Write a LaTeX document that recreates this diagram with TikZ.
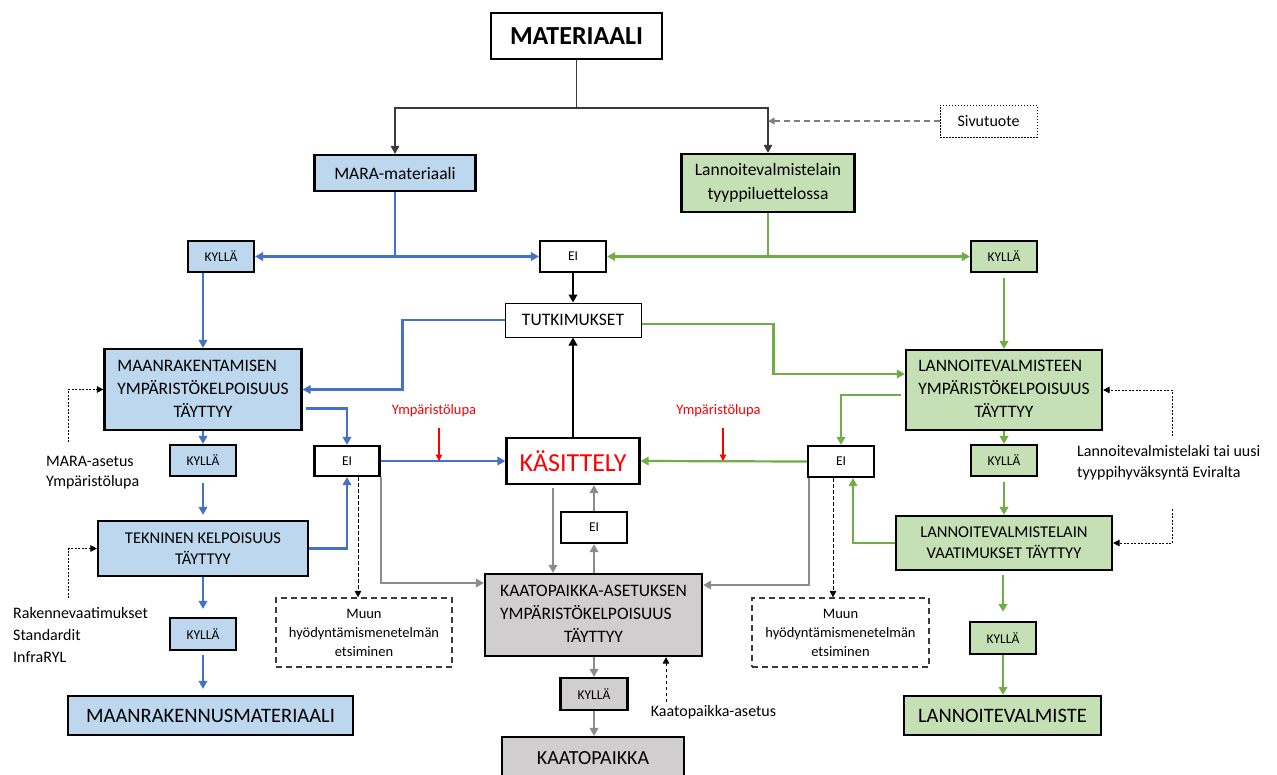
\documentclass[tikz,border=0pt]{standalone}
\usepackage{fontspec}
\setmainfont{Carlito}
\usetikzlibrary{arrows.meta}

\definecolor{lineblue}{HTML}{4472C4}
\definecolor{linegreen}{HTML}{70AD47}
\definecolor{linegray}{HTML}{8C8C8C}
\definecolor{fillblue}{HTML}{BDD7EE}
\definecolor{fillgreen}{HTML}{C5E0B4}
\definecolor{fillgray}{HTML}{D0CECE}
\definecolor{darkline}{HTML}{3A3A3A}
\definecolor{dashgray}{HTML}{7F7F7F}

\newcommand{\fsz}[2]{\fontsize{#1}{#2}\selectfont}
% two left-aligned lines with a centred last line
\newcommand{\threel}[3]{\begin{tabular}{@{}l@{}}#1\\#2\\\multicolumn{1}{@{}c@{}}{#3}\end{tabular}}

\tikzset{
  box/.style={draw=black, line width=2.2pt, inner sep=0pt, align=center, text=black},
  bluebox/.style={box, fill=fillblue},
  greenbox/.style={box, fill=fillgreen},
  graybox/.style={box, fill=fillgray},
  whitebox/.style={box, fill=white},
  yn/.style={font=\fsz{13.5}{16}, minimum width=66pt, minimum height=31pt},
  big/.style={font=\fsz{17.5}{23}},
  note/.style={inner sep=0pt, align=left, text=black, font=\fsz{16}{20}},
  muunbox/.style={draw=darkline, line width=1.2pt, dash pattern=on 6pt off 4pt,
    inner sep=0pt, align=center, font=\fsz{14.5}{19}, minimum width=176pt, minimum height=69pt},
  tip/.tip={Triangle[length=8pt,width=8.5pt]},
  smalltip/.tip={Triangle[length=6.5pt,width=6.5pt]},
  conn/.style={line width=2.2pt, -tip},
  bl/.style={conn, draw=lineblue},
  gr/.style={conn, draw=linegreen},
  gy/.style={conn, draw=linegray},
  bk/.style={conn, draw=black},
  thinblk/.style={line width=1.4pt, draw=darkline},
  dotarrow/.style={line width=1pt, draw=black, dash pattern=on 2pt off 1.5pt, -smalltip},
  dsharrow/.style={line width=0.9pt, draw=black, dash pattern=on 3.5pt off 2.5pt, -smalltip},
  sivuarrow/.style={line width=1.6pt, draw=dashgray, dash pattern=on 6pt off 4pt, -smalltip},
  redarrow/.style={line width=1.3pt, draw=red, -smalltip},
}

\begin{document}
\begin{tikzpicture}[x=1pt, y=-1pt]
\useasboundingbox (0,0) rectangle (1277,774);
\clip (0,0) rectangle (1277,774);

% ---- boxes ----
\node[whitebox, minimum width=171pt, minimum height=46pt, font=\fsz{26}{30}\bfseries] (mat) at (576.5,36) {MATERIAALI};
\node[bluebox, minimum width=161pt, minimum height=36pt, font=\fsz{17.5}{23}] (mara) at (395,173) {MARA-materiaali};
\node[greenbox, minimum width=173pt, minimum height=58pt, font=\fsz{17.5}{24}] (lvt) at (768,183) {Lannoitevalmistelain\\tyyppiluettelossa};
\node[box, line width=1pt, dash pattern=on 1.5pt off 1.5pt, minimum width=97pt, minimum height=32pt, font=\fsz{16}{20}] (sivu) at (988.5,121) {Sivutuote};

\node[bluebox, yn] (ky1) at (221,256.5) {KYLLÄ};
\node[whitebox, yn] (ei1) at (573,256.5) {EI};
\node[greenbox, yn] (ky2) at (1004,256.5) {KYLLÄ};

\node[box, line width=1pt, fill=white, minimum width=136pt, minimum height=34pt, font=\fsz{17.5}{22}] (tutk) at (573,320) {TUTKIMUKSET};

\node[bluebox, big, minimum width=197pt, minimum height=81pt] (maan) at (203,389.5) {\threel{MAANRAKENTAMISEN}{YMPÄRISTÖKELPOISUUS}{TÄYTTYY}};
\node[greenbox, big, minimum width=196pt, minimum height=80pt] (lve) at (1004,390) {\threel{LANNOITEVALMISTEEN}{YMPÄRISTÖKELPOISUUS}{TÄYTTYY}};

\node[whitebox, minimum width=133pt, minimum height=46pt, text=red, font=\fsz{26}{30}] (kas) at (573,461) {KÄSITTELY};

\node[bluebox, yn] (ky3) at (203,460.5) {KYLLÄ};
\node[whitebox, yn, minimum width=65pt, minimum height=30pt] (eiL) at (347,461) {EI};
\node[whitebox, yn] (eiR) at (841,461.5) {EI};
\node[greenbox, yn] (ky5) at (1004,460.5) {KYLLÄ};

\node[bluebox, minimum width=210pt, minimum height=55pt, font=\fsz{16.5}{21}] (tek) at (203,548.5) {TEKNINEN KELPOISUUS\\TÄYTTYY};
\node[greenbox, minimum width=216pt, minimum height=54pt, font=\fsz{16.5}{21}] (vaat) at (1004,543) {LANNOITEVALMISTELAIN\\VAATIMUKSET TÄYTTYY};

\node[whitebox, yn] (eim) at (594,527.5) {EI};
\node[graybox, big, minimum width=217pt, minimum height=82pt] (kaato) at (593.5,615) {\threel{KAATOPAIKKA-ASETUKSEN}{YMPÄRISTÖKELPOISUUS}{TÄYTTYY}};

\node[muunbox] (muunL) at (364,632.5) {Muun\\hyödyntämismenetelmän\\etsiminen};
\node[muunbox, minimum width=177pt] (muunR) at (840.5,632.5) {Muun\\hyödyntämismenetelmän\\etsiminen};

\node[bluebox, yn, minimum height=32pt] (ky4) at (203,634) {KYLLÄ};
\node[greenbox, yn, minimum height=32pt] (ky6) at (1003,638) {KYLLÄ};
\node[graybox, yn, minimum width=67pt, minimum height=32pt] (kyg) at (594,694) {KYLLÄ};

\node[bluebox, minimum width=285pt, minimum height=39pt, font=\fsz{20.5}{24}] (mrm) at (210.5,715.5) {MAANRAKENNUSMATERIAALI};
\node[greenbox, minimum width=197pt, minimum height=39pt, font=\fsz{20.5}{24}] (lvf) at (1002.5,715.5) {LANNOITEVALMISTE};
\node[graybox, minimum width=182pt, minimum height=42pt, font=\fsz{20}{24}] (kaatop) at (593,758) {KAATOPAIKKA};

% ---- annotations ----
\node[note, anchor=west] (maraAs) at (46,473) {MARA-asetus\\Ympäristölupa};
\node[note, anchor=west, font=\fsz{16}{22}] (rak) at (13,635) {Rakennevaatimukset\\Standardit\\InfraRYL};
\node[note, anchor=west, font=\fsz{16}{21}] (lvtxt) at (1077,462.5) {Lannoitevalmistelaki tai uusi\\tyyppihyväksyntä Eviralta};
\node[note] (kaas) at (713.5,712) {Kaatopaikka-asetus};
\node[note, text=red, font=\fsz{14.5}{18}] (yl1) at (434,411) {Ympäristölupa};
\node[note, text=red, font=\fsz{14.5}{18}] (yl2) at (718.5,411) {Ympäristölupa};

% ---- top split ----
\coordinate (jtop) at (576.5,108);
\draw[thinblk] (mat.south) -- (jtop);
\draw[thinblk, tip-tip] (mara.north) |- (jtop) -| (lvt.north);
\draw[sivuarrow] (sivu.west) -- (sivu.west -| lvt.north);

% ---- blue branch ----
\draw[bl] (mara.south) |- (ky1.east);
\draw[bl] (mara.south) |- (ei1.west);
\draw[bl] (ky1.south -| maan.north) -- (maan.north);
\draw[bl] (tutk.west) -- ++(-102,0) |- (maan.east);
\draw[bl] ([xshift=3pt,yshift=-19pt]maan.east) -| (eiL.north);
\draw[bl] (maan.south) -- (ky3.north);
\draw[bl, shorten <=6pt, shorten >=5pt] (ky3.south) -- (tek.north);
\draw[bl] (tek.east) -| (eiL.south);
\draw[bl] (eiL.east) -- (kas.west);
\draw[bl, shorten >=8pt] (tek.south) -- (ky4.north);
\draw[bl, shorten <=4pt, shorten >=6pt] (ky4.south) -- (ky4.south |- mrm.north);

% ---- green branch ----
\draw[gr] (lvt.south) |- (ei1.east);
\draw[gr] (lvt.south) |- (ky2.west);
\draw[gr, shorten <=5pt] (ky2.south) -- (lve.north);
\draw[gr] ([yshift=-4pt]tutk.east) -- ++(132,0) |- ([yshift=16pt]lve.west);
\draw[gr] ([xshift=-4pt,yshift=-5pt]lve.west) -| (eiR.north);
\draw[gr] (lve.south) -- (ky5.north);
\draw[gr, shorten <=5pt] (ky5.south) -- (vaat.north);
\draw[gr] (vaat.west) -| ([xshift=12pt]eiR.south);
\draw[gr] (eiR.west) -- (kas.east);
\draw[gr, shorten <=4pt, shorten >=9pt] (vaat.south -| ky6.north) -- (ky6.north);
\draw[gr] (ky6.south) -- (ky6.south |- lvf.north);

% ---- centre column ----
\draw[bk] (ei1.south) -- (tutk.north);
\draw[bk] (kas.north) -- (tutk.south);
\draw[gy] (eiL.south east) |- ([yshift=32pt]kaato.west);
\draw[gy] ([xshift=2pt]eiR.south west) |- ([yshift=30pt]kaato.east);
\draw[gy, shorten <=3pt] ([xshift=-20pt]kas.south) -- ([xshift=-20pt]kas.south |- kaato.north);
\draw[gy] (eim.south |- kaato.north) -- (eim.south);
\draw[gy] (eim.north) -- (eim.north |- kas.south);
\draw[gy] (kaato.south -| kyg.north) -- (kyg.north);
\draw[gy] (kyg.south) -- (kyg.south |- kaatop.north);

% ---- dashed hints ----
\draw[dsharrow] ([xshift=11pt]eiL.south) -- ([xshift=11pt]eiL.south |- muunL.north);
\draw[dsharrow] ([xshift=-8pt]eiR.south) -- ([xshift=-8pt]eiR.south |- muunR.north);

\coordinate (d1) at (68,442);
\coordinate (d2) at (68,598);
\coordinate (d3) at (1172,436);
\coordinate (d4) at (1172,509);
\coordinate (d5) at (666,702);
\draw[dotarrow] (d1) |- (maan.west);
\draw[dotarrow] (d2) |- (tek.west);
\draw[dotarrow] (d3) |- (lve.east);
\draw[dotarrow] (d4) |- (vaat.east);
\draw[dsharrow] (d5) -- (d5 |- kaato.south);

% ---- permit arrows ----
\coordinate (r1) at (439,428);
\coordinate (r2) at (723,428);
\draw[redarrow] (r1) -- (r1 |- kas.west);
\draw[redarrow] (r2) -- (r2 |- kas.east);
\end{tikzpicture}
\end{document}
